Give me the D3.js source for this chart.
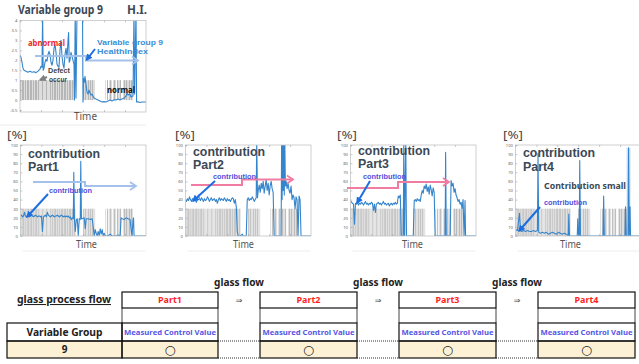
<!DOCTYPE html>
<html><head><meta charset="utf-8">
<script src="https://cdn.jsdelivr.net/npm/d3@7"></script>
<style>body{margin:0;background:#fff}svg{display:block}</style>
</head><body><svg id="c" width="639" height="364"></svg>
<script>
// ---------- DATA ----------
// defect flag per time step (0 none, 1 light, 2 dark), shared time axis 0..126
const defect = [2,1,2,2,1,2,1,2,2,1,2,2,1,2,1,2,2,1,2,1,
  1,1,2,1,1,1,2,1,1,1,
  2,1,2,1,2,2,1,2,1,2,1,2,2,
  1,2,2,1,2,1,2,2,1,2,1,2,
  0,0,0,0,0,0,0,0,
  2,1,2,1,1,2,1,2,1,2,1,1,
  0,0,0,0,0,0,0,0,0,0,
  1,0,2,0,1,
  2,1,0,1,2,1,0,2,1,1,2,
  0,0,
  1,2,1,2,1,1,2,1,2,1,
  0,0,0,0,0,0,0,0,0,0,0,0,0];

const hiTicks = [-0.5,0,0.5,1,1.5,2,2.5,3,3.5,4];
const pctTicks = [0,10,20,30,40,50,60,70,80,90,100];

// Health index of variable group 9: [time, HI]
const hiSeries = [[0,2.25],[1,2.15],[2,1.9],[3,1.6],[4,1.5],[6,1.45],[8,1.4],[10,1.45],[12,1.4],[14,1.42],[16,1.38],[18,1.45],[20,1.55],[21,1.7],[22,1.65],[22.6,4.3],[23.2,1.5],[24,1.6],[25,1.9],[26,2.05],[27,1.95],[28,2.3],[29,2.45],[30,2.3],[31,1.9],[32,1.75],[33,2.0],[34,2.6],[35,2.8],[36,2.4],[37,1.8],[38,1.7],[39,1.65],[40,2.5],[41,3.0],[42,2.2],[43,1.8],[44,1.6],[45,2.3],[46,2.6],[47,2.1],[48,3.0],[48.6,3.4],[49.2,1.9],[50,2.0],[51,2.4],[52,2.2],[53,2.0],[54,1.8],[54.5,0.0],[55.2,4.5],[56,0.1],[57,4.5],[62.5,4.5],[63,-0.1],[63.5,1.1],[64.5,0.9],[65,1.2],[66,0.8],[67,0.4],[68,0.3],[69,0.5],[70,0.35],[71,0.25],[72,0.3],[73,0.2],[74,0.1],[76,0.05],[78,0.0],[80,-0.05],[82,-0.1],[84,-0.08],[86,-0.1],[88,-0.05],[90,0.0],[92,-0.05],[94,0.02],[96,0.0],[98,0.05],[100,0.0],[102,0.05],[104,0.1],[106,0.2],[107,0.35],[108,0.25],[110,0.3],[111,0.15],[113,0.2],[114,4.5],[114.6,0.3],[116,4.5],[116.6,-0.1],[118,-0.08],[120,-0.12],[122,-0.1],[126,-0.1]];

// contribution [%] per part: [time, %]
const part1Series = [[0,22],[1,23],[2,21],[3,22],[4,26],[5,22],[6,21],[7,22],[8,23],[9,21],[10,22],[11,23],[12,22],[13,21],[14,22],[15,23],[16,22],[17,21],[18,22],[19,22],[20,21],[21,22],[22,5],[23,21],[24,22],[25,23],[26,21],[27,26],[28,23],[29,22],[30,21],[31,22],[32,23],[33,22],[34,21],[35,22],[36,22],[37,23],[38,22],[39,21],[40,22],[41,23],[42,22],[43,21],[44,22],[45,21],[46,22],[47,21],[48,22],[49,20],[50,21],[51,18],[52,20],[53,19],[53.5,70],[54.2,18],[55,5],[56,18],[57,19],[58,0],[59,19],[60,18],[60.5,82],[61.2,19],[62,19],[64,20],[65,8],[66,19],[68,19],[70,18],[72,19],[73,10],[74,0],[75,7],[76,3],[77,0],[78,5],[79,0],[80,8],[81,2],[82,7],[83,0],[84,3],[85,0],[88,0],[90,2],[92,0],[96,0],[98,1],[100,0],[101,20],[102,19],[104,18],[106,20],[108,19],[110,18],[111,8],[112,0],[113,18],[113.5,20],[114,0],[126,0]];
const part2Series = [[0,40],[1,38],[2,41],[3,39],[4,43],[5,40],[6,38],[7,41],[8,40],[9,42],[10,39],[11,37],[12,40],[13,45],[14,41],[15,39],[16,42],[17,40],[18,38],[19,41],[20,39],[21,40],[22,43],[23,41],[24,38],[25,40],[26,42],[27,39],[28,40],[29,41],[30,38],[31,40],[32,36],[33,40],[34,42],[35,39],[36,41],[37,40],[38,39],[39,42],[40,40],[41,38],[42,41],[43,39],[44,40],[45,38],[46,40],[47,42],[48,41],[49,36],[50,40],[51,32],[52,5],[53,0],[55,0],[57,2],[58,0],[61,0],[62,40],[63,42],[64,39],[65,41],[66,40],[67,43],[68,41],[69,38],[70,40],[71,42],[71.5,105],[72.3,42],[73,50],[74,56],[75,48],[76,58],[77,52],[78,60],[79,47],[80,55],[81,62],[82,50],[83,58],[84,45],[85,55],[86,60],[87,52],[88,48],[89,0],[96,0],[96.5,105],[97,40],[97.5,105],[98,50],[98.5,105],[99.2,45],[99.7,105],[100.3,55],[101,60],[102,52],[103,58],[104,50],[105,47],[106,55],[107,40],[108,45],[109,42],[110,30],[111,43],[112,40],[113,0],[114,44],[115,40],[116,0],[126,0]];
const part3Series = [[0,39],[1,37],[2,36],[3,35],[4,13],[5,36],[6,35],[7,37],[8,34],[9,36],[10,35],[11,37],[12,36],[13,34],[14,36],[15,38],[16,35],[17,36],[18,34],[19,36],[20,35],[21,37],[22,36],[23,28],[24,35],[25,26],[26,35],[27,36],[28,37],[29,35],[30,36],[31,34],[32,36],[33,38],[34,35],[35,36],[36,34],[37,35],[38,36],[39,33],[40,35],[41,36],[42,34],[43,36],[44,35],[45,37],[46,35],[47,36],[48,44],[49,42],[50,45],[51,0],[53,0],[53.5,105],[54.2,0],[55.5,105],[56.2,0],[63,0],[64,39],[65,40],[66,38],[67,41],[68,39],[69,40],[70,38],[71,45],[72,50],[73,47],[74,55],[75,52],[76,57],[77,49],[78,54],[79,46],[80,56],[81,51],[82,44],[83,53],[84,48],[85,0],[95,0],[95.5,92],[96.2,0],[100,0],[101,61],[102,55],[103,58],[104,48],[105,52],[106,45],[107,42],[108,38],[109,40],[110,35],[111,37],[112,30],[113,40],[114,0],[115,39],[115.5,0],[126,0]];
const part4Series = [[0,7],[2,6],[4,25],[5,6],[6,5],[8,6],[10,5],[12,6],[14,5],[16,5],[18,6],[20,5],[22,6],[22.6,91],[23.3,4],[25,3],[27,4],[29,3],[31,4],[33,2],[35,3],[37,4],[39,3],[41,2],[43,4],[45,3],[47,2],[49,3],[51,2],[53,0],[53.5,24],[54.2,0],[62,0],[62.5,19],[63.3,0],[64,0],[64.5,83],[65.2,0],[88,0],[88.5,44],[89.2,0],[110,0],[110.5,32],[111.2,0],[113,0],[113.5,97],[114.2,0],[115,32],[115.5,0],[126,0]];
const part4Band = [111.5, 115.5, 97];

const partNames = ["Part1","Part2","Part3","Part4"];
const partSeries = [part1Series, part2Series, part3Series, part4Series];
const measuredLabel = "Measured Control Value";
const variableGroup = "9";
const usedMarks = ["○","○","○","○"];
const flowLabel = "glass flow";

// ---------- DRAW ----------
const svg = d3.select("#c");
const defs = svg.append("defs");
function marker(id, color, size) {
  defs.append("marker").attr("id", id).attr("viewBox", "0 0 10 10")
    .attr("refX", 8).attr("refY", 5).attr("markerWidth", size).attr("markerHeight", size)
    .attr("markerUnits", "userSpaceOnUse").attr("orient", "auto")
    .append("path").attr("d", "M0,0L10,5L0,10Z").attr("fill", color);
}
marker("blueHead", "#1d6fe0", 7);
marker("grayHead", "#808080", 7);

const SANS = "'Noto Sans', 'Open Sans', sans-serif";
const TIGHT = "'Liberation Sans', Arial, sans-serif";
function txt(s, x, y, o = {}) {
  const t = svg.append("text").text(s).attr("x", x).attr("y", y)
    .attr("font-family", o.family || SANS)
    .attr("font-size", o.size || 10)
    .attr("font-weight", o.weight || "bold")
    .attr("fill", o.color || "#222")
    .attr("text-anchor", o.anchor || "start");
  if (o.w) t.attr("textLength", o.w).attr("lengthAdjust", "spacingAndGlyphs");
  if (o.underline) t.attr("text-decoration", "underline");
  return t;
}
function stepArrow(pts, color) {
  svg.append("path").attr("d", d3.line()(pts)).attr("fill", "none")
    .attr("stroke", color).attr("stroke-width", 2);
  const [ex, ey] = pts[pts.length - 1];
  svg.append("path").attr("d", `M${ex-6},${ey-4}L${ex},${ey}L${ex-6},${ey+4}`)
    .attr("fill", "none").attr("stroke", color).attr("stroke-width", 1.8);
}
function pointer(x1, y1, x2, y2, head, color) {
  svg.append("line").attr("x1", x1).attr("y1", y1).attr("x2", x2).attr("y2", y2)
    .attr("stroke", color).attr("stroke-width", 2).attr("marker-end", `url(#${head})`);
}

let clipId = 0;
function panel(L, R, T, B, yDom, series, level, ticks) {
  const x = d3.scaleLinear().domain([0, 126]).range([L, R]);
  const y = d3.scaleLinear().domain(yDom).range([B, T]);
  const id = "clip" + (clipId++);
  defs.append("clipPath").attr("id", id).append("rect")
    .attr("x", L).attr("y", T).attr("width", R - L).attr("height", B - T);
  const g = svg.append("g");
  const pg = g.append("g").attr("clip-path", `url(#${id})`);
  pg.selectAll("rect").data(defect.map((d, i) => ({ i, d })).filter(o => o.d > 0)).join("rect")
    .attr("x", o => x(o.i)).attr("width", o => x(o.i + 1) - x(o.i))
    .attr("y", y(level)).attr("height", y(0) - y(level))
    .attr("fill", o => o.d === 2 ? "#b6b6b6" : "#dddddd");
  const lineG = pg.append("g");
  lineG.append("path").datum(series)
    .attr("d", d3.line().x(d => x(d[0])).y(d => y(d[1])))
    .attr("fill", "none").attr("stroke", "#3585cc").attr("stroke-width", 1.1)
    .attr("stroke-linejoin", "round");
  g.append("rect").attr("x", L).attr("y", T).attr("width", R - L).attr("height", B - T)
    .attr("fill", "none").attr("stroke", "#c4c4c4").attr("stroke-width", 0.8);
  const ax = g.append("g").attr("transform", `translate(${L},0)`)
    .call(d3.axisLeft(y).tickValues(ticks).tickSize(-2).tickPadding(2.5).tickFormat(d => String(d)));
  ax.select(".domain").remove();
  ax.selectAll("line").attr("stroke", "#999").attr("stroke-width", 0.5);
  ax.selectAll("text").attr("font-size", 4.2).attr("fill", "#666").attr("font-family", SANS);
  const xt = [0, 21, 42, 63, 84, 105];
  g.append("g").attr("transform", `translate(0,${B})`)
    .call(d3.axisBottom(x).tickValues(xt).tickSize(-2).tickFormat(""))
    .call(a => { a.select(".domain").remove(); a.selectAll("line").attr("stroke", "#999").attr("stroke-width", 0.5); });
  g.append("g").attr("transform", `translate(0,${T})`)
    .call(d3.axisTop(x).tickValues(xt).tickSize(-2).tickFormat(""))
    .call(a => { a.select(".domain").remove(); a.selectAll("line").attr("stroke", "#999").attr("stroke-width", 0.5); });
  return { x, y, g, lineG };
}

// ---- top HI chart ----
const DARK = "#3b4856";
txt("Variable group 9", 18, 14, { size: 13, color: DARK, w: 85 });
txt("H.I.", 127, 14, { size: 13, color: DARK, w: 20 });
panel(20, 146, 20.5, 112, [-0.6, 4], hiSeries, 1, hiTicks);
txt("Time", 74, 120, { size: 10, weight: "normal", color: "#555", w: 23 });
svg.append("line").attr("x1", 0).attr("x2", 146).attr("y1", 125).attr("y2", 125).attr("stroke", "#ececec");
stepArrow([[35, 56], [86, 56], [86, 60.5], [138, 60.5]], "#a3c1ea");
txt("abnormal", 28, 45.5, { size: 9, color: "#ee2a2a", w: 37 });
txt("Variable group 9", 97, 44.8, { size: 7.6, color: "#3a8ed8", w: 66, family: TIGHT });
txt("HealthIndex", 97, 53.6, { size: 7.6, color: "#3a8ed8", w: 51, family: TIGHT });
pointer(95, 49, 86.5, 60, "blueHead", "#1d6fe0");
txt("Defect", 48, 73.3, { size: 7.1, color: "#444", w: 22, family: TIGHT });
txt("occur", 49, 81.5, { size: 7.1, color: "#444", w: 18, family: TIGHT });
pointer(47, 77, 40, 80, "grayHead", "#808080");
txt("normal", 107, 92.5, { size: 8.5, color: "#111", w: 28 });

// ---- contribution charts ----
const lefts = [20.5, 185.5, 350.5, 515.5];
const pctX = [-13.5, -10.5, -13.5, -12.5];
const timeX = [55.5, 47.5, 51.5, 44.5];
const contribBase = [157.5, 155.8, 154.8, 157];
const smallX = [[28.5, 193], [27.5, 179], [12.5, 178.6], [28.5, 205]];
const pointers = [[[27.5, 194], [6.5, 217]], [[29.5, 181], [7.5, 201]], [[19.5, 181], [6.5, 203]], [[24.5, 207], [3.5, 231]]];
const steps = [
  { pts: [[12.5, 182], [64.5, 182], [64.5, 186], [115.5, 186]], color: "#a3c1ea" },
  { pts: [[5.5, 185], [56.5, 185], [56.5, 179.5], [107.5, 179.5]], color: "#f07ca2" },
  { pts: [[-3.5, 188], [47.5, 188], [47.5, 182], [98.5, 182]], color: "#f07ca2" },
  null];

partNames.forEach((p, k) => {
  const L = lefts[k];
  const P = panel(L, L + 125.5, 145, 236, [0, 100], partSeries[k], 30, pctTicks);
  if (k === 3) {
    P.lineG.insert("rect", ":first-child")
      .attr("x", P.x(part4Band[0])).attr("width", P.x(part4Band[1]) - P.x(part4Band[0]))
      .attr("y", P.y(part4Band[2])).attr("height", P.y(0) - P.y(part4Band[2]))
      .attr("fill", "#cde1f3");
  }
  txt("[%]", L + pctX[k], 139.3, { size: 11, weight: "normal", color: "#444", w: 20 });
  txt("contribution", L + 7.5, contribBase[k], { size: 12, color: DARK, w: 72, family: TIGHT });
  txt(p, L + 7.5, contribBase[k] + 13.6, { size: 12, color: DARK, w: 31, family: TIGHT });
  txt("Time", L + timeX[k], 248, { size: 10, weight: "normal", color: "#555", w: 21 });
  svg.append("line").attr("x1", L + 2).attr("x2", L + 125).attr("y1", 251).attr("y2", 251).attr("stroke", "#ededed");
  if (steps[k]) stepArrow(steps[k].pts.map(([a, b]) => [L + a, b]), steps[k].color);
  txt("contribution", L + smallX[k][0], smallX[k][1], { size: 7.6, color: "#5050dc", w: 43, family: TIGHT });
  const [[a1, b1], [a2, b2]] = pointers[k];
  pointer(L + a1, b1, L + a2, b2, "blueHead", "#1d6fe0");
  if (k === 3) txt("Contribution small", L + 28.5, 189, { size: 9, color: DARK, w: 82 });
});

// ---- process table ----
const colX = [122, 260, 399, 538];
const colW = [96, 97, 97, 97];
const r1 = 292, r2 = 308, r3 = 323, r4 = 341, r5 = 358;
svg.append("rect").attr("x", 7).attr("y", r4).attr("width", 115).attr("height", r5 - r4).attr("fill", "#fdf1d5");
colX.forEach((cx, i) => svg.append("rect").attr("x", cx).attr("y", r4).attr("width", colW[i]).attr("height", r5 - r4).attr("fill", "#fdf1d5"));
for (let i = 0; i < 3; i++) {
  [r4, r5].forEach(yy => svg.append("line").attr("x1", colX[i] + colW[i]).attr("x2", colX[i + 1])
    .attr("y1", yy).attr("y2", yy).attr("stroke", "#333").attr("stroke-width", 1).attr("stroke-dasharray", "1,1"));
}
colX.forEach((cx, i) => {
  [cx, cx + colW[i]].forEach(xx => svg.append("line").attr("x1", xx).attr("x2", xx).attr("y1", r2).attr("y2", r3)
    .attr("stroke", "#8a8a8a").attr("stroke-width", 1.6));
});
function box(x, y, w, h) {
  svg.append("rect").attr("x", x).attr("y", y).attr("width", w).attr("height", h)
    .attr("fill", "none").attr("stroke", "#111").attr("stroke-width", 1.2);
}
colX.forEach((cx, i) => { box(cx, r1, colW[i], r2 - r1); box(cx, r3, colW[i], r4 - r3); box(cx, r4, colW[i], r5 - r4); });
box(7, r3, 115, r4 - r3); box(7, r4, 115, r5 - r4);

txt("glass process flow", 17, 303, { size: 10.5, color: "#222", w: 94, underline: true });
partNames.forEach((p, i) => {
  const cx = colX[i] + colW[i] / 2;
  txt(p, cx, 303, { size: 9, color: "#ff1f1f", anchor: "middle", w: 24 });
  txt(measuredLabel, cx, 335, { size: 7.5, color: "#5656e4", anchor: "middle", w: 92 });
  txt(usedMarks[i], cx, 354, { size: 12.5, weight: "normal", color: "#222", anchor: "middle", family: "'DejaVu Sans', sans-serif" });
  if (i < 3) {
    const gx = (colX[i] + colW[i] + colX[i + 1]) / 2;
    txt(flowLabel, gx, 285.5, { size: 10, color: "#222", anchor: "middle", w: 50 });
    txt("⇒", gx, 303, { size: 8, weight: "normal", color: "#444", anchor: "middle", family: "'DejaVu Sans', sans-serif" });
  }
});
txt("Variable Group", 64.5, 336, { size: 10.5, color: "#222", anchor: "middle", w: 76 });
txt(variableGroup, 64.5, 353, { size: 10, color: "#222", anchor: "middle" });
</script></body></html>
